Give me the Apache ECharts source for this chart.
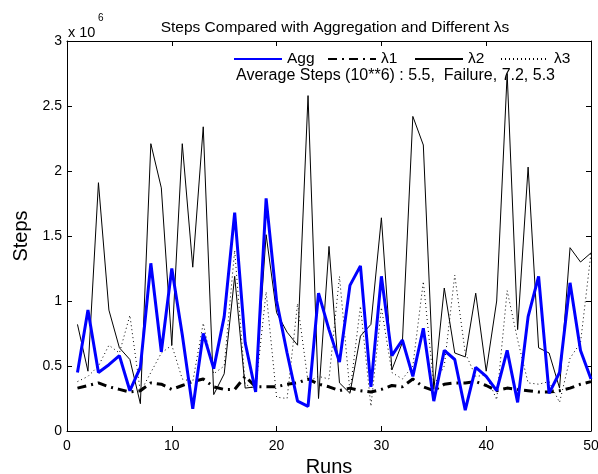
<!DOCTYPE html>
<html>
<head>
<meta charset="utf-8">
<script src="https://cdn.jsdelivr.net/npm/echarts@6/dist/echarts.min.js"></script>
<style>
  html, body { margin: 0; padding: 0; background: #fff; }
  #chart { width: 598px; height: 474px; }
</style>
</head>
<body>
<div id="chart"></div>
<script>
// values in units of 10^6 steps, one per run (1..50)
const runs = [];
for (let i = 1; i <= 50; i++) runs.push(i);

const agg = [0.45, 0.93, 0.45, 0.51, 0.58, 0.31, 0.49, 1.29, 0.61, 1.25,
             0.74, 0.17, 0.75, 0.48, 0.88, 1.68, 0.68, 0.30, 1.79, 1.00,
             0.60, 0.23, 0.19, 1.06, 0.78, 0.53, 1.12, 1.27, 0.34, 1.19,
             0.58, 0.70, 0.42, 0.79, 0.23, 0.62, 0.55, 0.16, 0.49, 0.42,
             0.31, 0.62, 0.22, 0.88, 1.19, 0.29, 0.45, 1.14, 0.62, 0.40];

const lambda1 = [0.33, 0.35, 0.37, 0.34, 0.32, 0.30, 0.31, 0.37, 0.36, 0.32,
                 0.35, 0.38, 0.40, 0.34, 0.32, 0.32, 0.42, 0.34, 0.34, 0.34,
                 0.36, 0.37, 0.40, 0.36, 0.34, 0.31, 0.33, 0.31, 0.30, 0.32,
                 0.35, 0.34, 0.40, 0.34, 0.31, 0.36, 0.37, 0.37, 0.38, 0.35,
                 0.31, 0.33, 0.32, 0.31, 0.30, 0.30, 0.31, 0.33, 0.36, 0.38];

const lambda2 = [0.82, 0.46, 1.91, 0.93, 0.64, 0.55, 0.21, 2.21, 1.87, 0.66,
                 2.21, 1.26, 2.34, 0.28, 0.44, 1.19, 0.33, 0.34, 1.51, 0.91,
                 0.76, 0.66, 2.58, 0.25, 1.42, 0.37, 0.29, 0.73, 0.82, 1.64,
                 0.47, 0.68, 2.42, 2.20, 0.32, 1.10, 0.60, 0.57, 1.06, 0.46,
                 1.00, 2.75, 0.78, 2.03, 0.64, 0.60, 0.33, 1.41, 1.30, 1.37];

const lambda3 = [0.38, 0.42, 0.50, 0.66, 0.60, 0.89, 0.30, 0.45, 0.60, 0.66,
                 0.40, 0.38, 0.83, 0.44, 0.50, 1.39, 0.36, 0.32, 1.07, 0.26,
                 0.25, 0.98, 0.38, 0.42, 0.40, 1.19, 0.30, 0.96, 0.19, 0.95,
                 0.45, 0.40, 0.50, 1.15, 0.35, 0.50, 1.20, 0.60, 0.42, 0.43,
                 0.24, 1.08, 0.70, 0.37, 0.36, 0.38, 0.22, 0.56, 0.68, 1.37];

const seriesNames = ['Agg', 'λ1', 'λ2', 'λ3'];
const noteText = 'Average Steps (10**6) : 5.5,  Failure, 7.2, 5.3';

function pairs(vals) {
    return runs.map((r, i) => [r, vals[i]]);
}

const font = 'Arial, "Liberation Sans", sans-serif';

const chart = echarts.init(document.getElementById('chart'));

const tickStyle = { show: true, inside: true, length: 5, lineStyle: { color: '#000' } };
const lineAxis = { show: true, onZero: false, lineStyle: { color: '#000', width: 1 } };

// one legend block per series so each entry sits where the reference has it
const legendLeft = [228, 322, 409, 495];
const legends = seriesNames.map((n, i) => ({
    data: [n],
    left: legendLeft[i], top: 46,
    itemWidth: 48, itemHeight: 8,
    itemStyle: { opacity: 0 },
    selectedMode: false,
    textStyle: { fontFamily: font, fontSize: 15.5, color: '#000' }
}));

chart.setOption({
    animation: false,
    backgroundColor: '#fff',
    title: {
        text: 'Steps Compared with Aggregation and Different λs',
        left: 330, top: 15, textAlign: 'center',
        textStyle: { fontFamily: font, fontSize: 15.5, fontWeight: 'normal', color: '#000' }
    },
    grid: { left: 67, right: 7, top: 41, bottom: 43, outerBoundsMode: 'none' },
    legend: legends,
    xAxis: [{
        type: 'value', min: 0, max: 50, interval: 10,
        name: 'Runs', nameLocation: 'middle', nameGap: 24,
        nameTextStyle: { fontFamily: font, fontSize: 20, color: '#000' },
        axisLine: lineAxis, axisTick: tickStyle,
        axisLabel: { fontFamily: font, fontSize: 14, color: '#000', margin: 8 },
        splitLine: { show: false }
    }, {
        type: 'value', min: 0, max: 50, interval: 10, position: 'top',
        axisLine: lineAxis, axisTick: tickStyle,
        axisLabel: { show: false }, splitLine: { show: false }
    }],
    yAxis: [{
        type: 'value', min: 0, max: 3, interval: 0.5,
        name: 'Steps', nameLocation: 'middle', nameGap: 36,
        nameTextStyle: { fontFamily: font, fontSize: 20, color: '#000' },
        axisLine: lineAxis, axisTick: tickStyle,
        axisLabel: { fontFamily: font, fontSize: 14, color: '#000', margin: 5 },
        splitLine: { show: false }
    }, {
        type: 'value', min: 0, max: 3, interval: 0.5, position: 'right',
        axisLine: lineAxis, axisTick: tickStyle,
        axisLabel: { show: false }, splitLine: { show: false }
    }],
    graphic: [{
        type: 'text', left: 68, top: 25,
        style: { text: 'x 10', fontFamily: font, fontSize: 14.5, fill: '#000' }
    }, {
        type: 'text', left: 98, top: 13,
        style: { text: '6', fontFamily: font, fontSize: 10, fill: '#000' }
    }, {
        type: 'text', left: 236, top: 68,
        style: { text: noteText, fontFamily: font, fontSize: 16, fill: '#000' }
    }],
    series: [{
        name: seriesNames[0], type: 'line', data: pairs(agg),
        symbol: 'none', lineStyle: { color: '#0000ff', width: 3 },
        itemStyle: { color: '#0000ff' }, z: 5
    }, {
        name: seriesNames[1], type: 'line', data: pairs(lambda1),
        symbol: 'none', lineStyle: { color: '#000', width: 3, type: [9, 5, 2, 5] },
        itemStyle: { color: '#000' }, z: 4
    }, {
        name: seriesNames[2], type: 'line', data: pairs(lambda2),
        symbol: 'none', lineStyle: { color: '#000', width: 1 },
        itemStyle: { color: '#000' }, z: 3
    }, {
        name: seriesNames[3], type: 'line', data: pairs(lambda3),
        symbol: 'none', lineStyle: { color: '#000', width: 1, type: [1, 3] },
        itemStyle: { color: '#000' }, z: 2
    }]
});
</script>
</body>
</html>
